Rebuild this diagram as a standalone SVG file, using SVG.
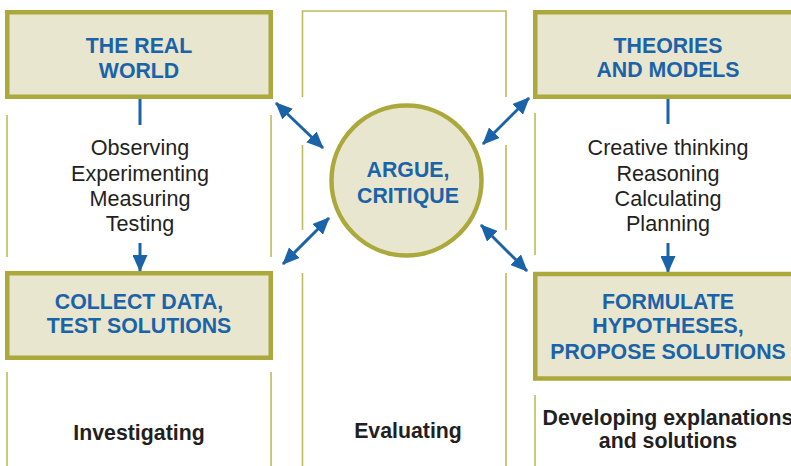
<svg xmlns="http://www.w3.org/2000/svg" width="791" height="466" viewBox="0 0 791 466">
<style>
.box{fill:#e8e6cf;stroke:#aca93c;stroke-width:4.5}
.thin{stroke:#bdbb5e;stroke-width:1.6;fill:none}
.title{font-family:"Liberation Sans",Arial,sans-serif;font-weight:bold;font-size:21.3px;fill:#1b63a9;text-anchor:middle}
.list{font-family:"Liberation Sans",Arial,sans-serif;font-size:21.6px;fill:#231f20;text-anchor:middle}
.lab{font-family:"Liberation Sans",Arial,sans-serif;font-weight:bold;font-size:21.3px;fill:#231f20;text-anchor:middle}
.conn{stroke:#1b63a9;stroke-width:3;fill:none}
</style>
<defs>
<marker id="ah" markerUnits="userSpaceOnUse" markerWidth="17" markerHeight="15" refX="16" refY="7.5" orient="auto-start-reverse" viewBox="0 0 17 15">
<path d="M0,0 L17,7.5 L0,15 Z" fill="#1b63a9"/>
</marker>
</defs>
<rect width="791" height="466" fill="#ffffff"/>
<g id="frames">
<path class="thin" d="M7,115 V257 M271,115 V257 M7,372 V466 M271,372 V466"/>
<path class="thin" d="M302.5,97 V11 H506 V97 M302.5,145 V230 M506,145 V230 M302.5,273 V466 M506,273 V466"/>
<path class="thin" d="M535,113 V255 M535,395 V466"/>
</g>
<g id="connectors">
<path class="conn" d="M140,99 V125"/>
<path class="conn" d="M140,243 V271" marker-end="url(#ah)"/>
<path class="conn" d="M668,99 V124"/>
<path class="conn" d="M668,243 V272" marker-end="url(#ah)"/>
<path class="conn" d="M276,103 L323,148" marker-start="url(#ah)" marker-end="url(#ah)"/>
<path class="conn" d="M483,144 L529,98" marker-start="url(#ah)" marker-end="url(#ah)"/>
<path class="conn" d="M329,218 L283,264" marker-start="url(#ah)" marker-end="url(#ah)"/>
<path class="conn" d="M481,225 L527,271" marker-start="url(#ah)" marker-end="url(#ah)"/>
</g>
<g id="real-world">
<rect class="box" x="7.25" y="12.25" width="263.5" height="84.5"/>
<text class="title" x="139" y="53">THE REAL</text>
<text class="title" x="139" y="77.5">WORLD</text>
</g>
<g id="collect-data">
<rect class="box" x="7.25" y="273.25" width="263.5" height="84.5"/>
<text class="title" x="139" y="309">COLLECT DATA,</text>
<text class="title" x="139" y="333">TEST SOLUTIONS</text>
</g>
<g id="theories">
<rect class="box" x="535.25" y="12.25" width="267" height="84.5"/>
<text class="title" x="668" y="53">THEORIES</text>
<text class="title" x="668" y="77">AND MODELS</text>
</g>
<g id="formulate">
<rect class="box" x="535.25" y="274" width="267" height="104.5"/>
<text class="title" x="668" y="309">FORMULATE</text>
<text class="title" x="668" y="333">HYPOTHESES,</text>
<text class="title" x="668" y="359">PROPOSE SOLUTIONS</text>
</g>
<g id="argue">
<circle cx="406.5" cy="180.5" r="75" fill="#e8e6cf" stroke="#aca93c" stroke-width="4.5"/>
<text class="title" x="408" y="177">ARGUE,</text>
<text class="title" x="408" y="203">CRITIQUE</text>
</g>
<g id="left-activities">
<text class="list" x="140" y="155">Observing</text>
<text class="list" x="140" y="180.5">Experimenting</text>
<text class="list" x="140" y="206">Measuring</text>
<text class="list" x="140" y="231">Testing</text>
</g>
<g id="right-activities">
<text class="list" x="668" y="155">Creative thinking</text>
<text class="list" x="668" y="180.5">Reasoning</text>
<text class="list" x="668" y="206">Calculating</text>
<text class="list" x="668" y="231">Planning</text>
</g>
<g id="labels">
<text class="lab" x="139" y="440">Investigating</text>
<text class="lab" x="408" y="438">Evaluating</text>
<text class="lab" x="668" y="425">Developing explanations</text>
<text class="lab" x="668" y="448">and solutions</text>
</g>
</svg>
